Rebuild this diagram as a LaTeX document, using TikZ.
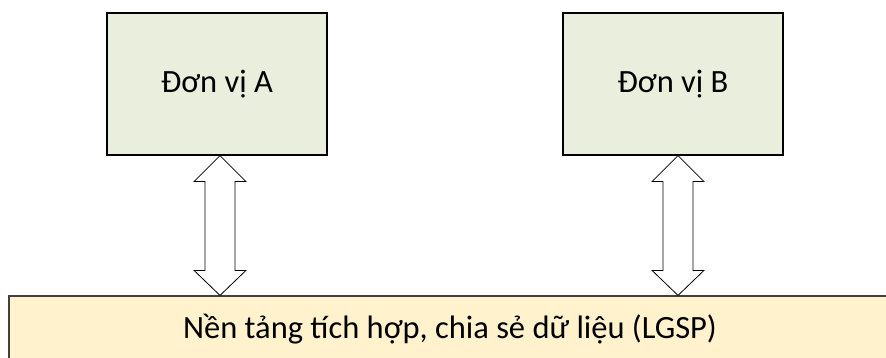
\documentclass[tikz,border=0pt]{standalone}
\usepackage{fontspec}
\setmainfont{Carlito}
\usepackage{tikz}
\usetikzlibrary{positioning, calc}

\definecolor{unitfill}{HTML}{E9EFDC}
\definecolor{barfill}{HTML}{FFF2CC}
\definecolor{bardraw}{HTML}{404040}

\tikzset{
	unitbox/.style = {draw = black, line width = 1.2pt, fill = unitfill, minimum width = 220pt, minimum height = 142pt, inner sep = 0pt, font = \fontsize{32.5}{39}\selectfont},
	platform/.style = {draw = bardraw, line width = 1.2pt, fill = barfill, minimum width = 882pt, minimum height = 66pt, inner sep = 0pt, font = \fontsize{32.5}{39}\selectfont},
	exchange/.style = {draw = black, line width = 0.8pt, fill = white, line join = miter}
}

% double arrow between a box and the platform
\newcommand{\linkarrow}[2]{
	\draw[exchange] (#1) -- ++(26,26) -- ++(-11,0) -- ($(#2)+(15,-25)$) -- ++(11,0) -- (#2) -- ++(-26,-25) -- ++(11,0) -- ($(#1)+(-15,26)$) -- ++(-11,0) -- cycle;
}

\begin{document}
\begin{tikzpicture}[x = 1pt, y = -1pt]
	\useasboundingbox (0,0) rectangle (886,358);
	\clip (0,0) rectangle (886,358);

	% units
	\node[unitbox] (unitA) at (217,84) {Đơn vị A};
	\node[unitbox] (unitB) at (673,84) {Đơn vị B};

	% shared platform
	\node[platform] (lgsp) at (450,329) {Nền tảng tích hợp, chia sẻ dữ liệu (LGSP)};

	% connections
	\coordinate (topA) at ($(unitA.south)+(3,0)$);
	\coordinate (botA) at (topA |- lgsp.north);
	\coordinate (topB) at ($(unitB.south)+(5,0)$);
	\coordinate (botB) at (topB |- lgsp.north);
	\linkarrow{topA}{botA}
	\linkarrow{topB}{botB}
\end{tikzpicture}
\end{document}
